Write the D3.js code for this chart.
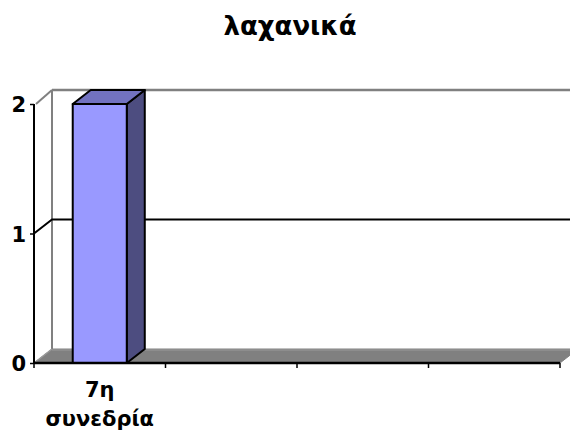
<!DOCTYPE html>
<html><head><meta charset="utf-8">
<script src="https://cdn.jsdelivr.net/npm/d3@7"></script>
<style>body{margin:0;background:#fff}svg{display:block}</style>
</head><body>
<svg id="c" width="570" height="441"></svg>
<script>
const title = "λαχανικά";
const categories = ["7η συνεδρία", "c2", "c3", "c4"];
const categoryLabels = ["7η\nσυνεδρία", "", "", ""];
const values = [2, null, null, null];
const yTicks = [0, 1, 2];

const svg = d3.select("#c");
const font = "'DejaVu Sans', sans-serif";
const dx = 18, dy = -14;
const x = d3.scaleBand().domain(categories).range([34, 560]).paddingInner(0.589).paddingOuter(0.2945);
const y = d3.scaleLinear().domain([0, 2]).range([363, 104]);
const x0 = 34, x1 = 560;

// title
svg.append("text").attr("x", 290).attr("y", 35).attr("text-anchor", "middle")
  .attr("font-family", font).attr("font-weight", "bold").attr("font-size", 26).text(title);

// floor
svg.append("path")
  .attr("d", `M${x0},${y(0)}L${x1},${y(0)}L${x1+dx},${y(0)+dy}L${x0+dx},${y(0)+dy}Z`)
  .attr("fill", "#808080").attr("stroke", "#808080").attr("stroke-width", 1);
svg.append("line").attr("x1", x0+dx).attr("x2", x1+dx).attr("y1", y(0)+dy+1).attr("y2", y(0)+dy+1)
  .attr("stroke", "#9a9a9a").attr("stroke-width", 1);

// back wall edges
svg.append("line").attr("x1", x0+dx).attr("x2", x0+dx).attr("y1", y(2)+dy).attr("y2", y(0)+dy)
  .attr("stroke", "#808080").attr("stroke-width", 2);
svg.append("line").attr("x1", x0+dx).attr("x2", 575).attr("y1", y(2)+dy).attr("y2", y(2)+dy)
  .attr("stroke", "#808080").attr("stroke-width", 2.5);
svg.append("line").attr("x1", x0+2).attr("x2", x0+dx).attr("y1", y(2)).attr("y2", y(2)+dy)
  .attr("stroke", "#808080").attr("stroke-width", 2);

// gridlines
yTicks.filter(t => t > 0 && t < 2).forEach(t => {
  svg.append("path").attr("d", `M${x0},${y(t)}L${x0+dx},${y(t)+dy}L575,${y(t)+dy}`)
    .attr("fill", "none").attr("stroke", "#000").attr("stroke-width", 2);
});
svg.append("line").attr("x1", x0).attr("x2", x0+dx).attr("y1", y(0)).attr("y2", y(0)+dy)
  .attr("stroke", "#9a9a9a").attr("stroke-width", 1.5);

// bars
const bars = categories.map((c, i) => ({c, v: values[i]})).filter(d => d.v != null);
bars.forEach(d => {
  const bx = x(d.c), bw = x.bandwidth(), top = y(d.v), bot = y(0);
  const g = svg.append("g").attr("stroke", "#000").attr("stroke-width", 2).attr("stroke-linejoin", "round");
  g.append("path").attr("d", `M${bx+bw},${bot}L${bx+bw+dx},${bot+dy}L${bx+bw+dx},${top+dy}L${bx+bw},${top}Z`).attr("fill", "#4d4d80");
  g.append("path").attr("d", `M${bx},${top}L${bx+dx},${top+dy}L${bx+bw+dx},${top+dy}L${bx+bw},${top}Z`).attr("fill", "#7272c0");
  g.append("rect").attr("x", bx).attr("y", top).attr("width", bw).attr("height", bot-top).attr("fill", "#9999ff");
});

// y axis
const ya = svg.append("g").attr("transform", `translate(${x0},0)`)
  .call(d3.axisLeft(y).tickValues(yTicks).tickSize(4).tickFormat(d3.format("d")));
ya.select(".domain").attr("stroke", "#000").attr("stroke-width", 2).attr("d", `M0,${y(2)}V${y(0)}`);
ya.selectAll(".tick line").attr("stroke", "#000").attr("stroke-width", 1.5);
ya.selectAll(".tick text").attr("font-family", font).attr("font-weight", "bold").attr("font-size", 21)
  .attr("fill", "#000").attr("x", -8).attr("dy", "0.36em");

// x axis
const xa = svg.append("g").attr("transform", `translate(0,${y(0)})`)
  .call(d3.axisBottom(x).tickSize(0).tickFormat(""));
xa.select(".domain").attr("stroke", "#000").attr("stroke-width", 2.5).attr("d", `M${x0},0H${x1}`);
const step = x.step();
d3.range(categories.length + 1).forEach(i => {
  svg.append("line").attr("x1", x0 + i*step).attr("x2", x0 + i*step).attr("y1", y(0)).attr("y2", y(0)+5)
    .attr("stroke", "#000").attr("stroke-width", 1.5);
});
categories.forEach((c, i) => {
  const lines = categoryLabels[i].split("\n").filter(s => s);
  lines.forEach((s, j) => {
    svg.append("text").attr("x", x(c) + x.bandwidth()/2).attr("y", 397 + j*29).attr("text-anchor", "middle")
      .attr("font-family", font).attr("font-weight", "bold").attr("font-size", 21).text(s);
  });
});
</script>
</body></html>
